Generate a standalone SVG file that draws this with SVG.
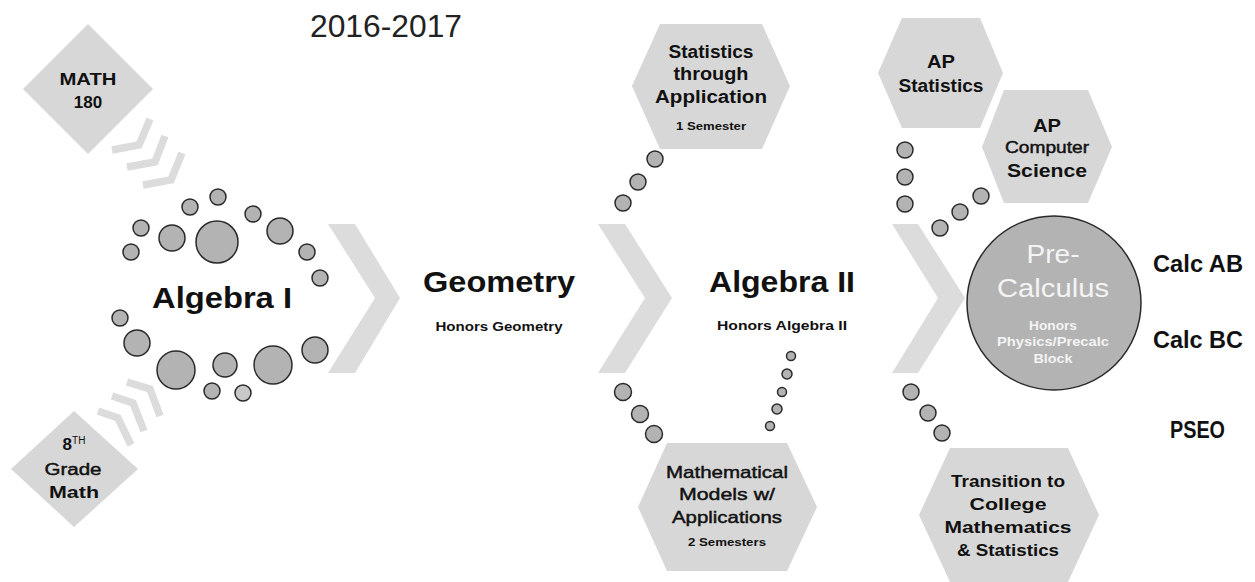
<svg xmlns="http://www.w3.org/2000/svg" width="1255" height="582" viewBox="0 0 1255 582">
<style>
  .bg{fill:#ffffff}
  .hex{fill:#d7d7d7}
  .dia{fill:#d7d7d7}
  .chev{fill:#dcdcdc}
  .schev{fill:none;stroke:#dcdcdc;stroke-width:7.5;stroke-linejoin:miter;stroke-linecap:butt}
  .dot{fill:#b3b3b3;stroke:#2a2a2a;stroke-width:1.5}
  .dotl{fill:#c8c8c8;stroke:#2a2a2a;stroke-width:1.5}
  .big{fill:#b3b3b3;stroke:#2a2a2a;stroke-width:1.5}
  text{font-family:"Liberation Sans",Arial,sans-serif;fill:#111;text-anchor:middle}
  .b{font-weight:bold}
  .t30{font-size:30px;font-weight:bold}
  .t18{font-size:18px;font-weight:bold}
  .t17{font-size:17px;font-weight:bold}
  .r16{font-size:16px;font-weight:normal}
  .med{stroke:#111;stroke-width:0.45}
  .t13{font-size:13px;font-weight:bold}
  .t11{font-size:11px;font-weight:bold}
  .calc{font-size:23px;font-weight:bold;text-anchor:start}
  .w{fill:#f4f4f4}
</style>
<rect class="bg" x="0" y="0" width="1255" height="582"/>

<text x="386" y="37" style="font-size:32px;font-weight:normal;fill:#222" textLength="152" lengthAdjust="spacingAndGlyphs">2016-2017</text>

<g id="connectors">
  <!-- big chevrons -->
  <polygon class="chev" points="328,224 355,224 400,298 355,373 328,373 375,298"/>
  <polygon class="chev" points="598,224 625,224 672,298 625,373 598,373 645,298"/>
  <polygon class="chev" points="892,224 918,224 965,298 918,373 892,373 938,298"/>
  <!-- small chevrons from MATH 180 -->
  <polyline class="schev" points="112,150 139,145 150,119"/>
  <polyline class="schev" points="127,167 155,162 165,136"/>
  <polyline class="schev" points="143,185 171,180 182,153"/>
  <!-- small chevrons from 8th grade -->
  <polyline class="schev" points="98,411 118,418 131,445"/>
  <polyline class="schev" points="112,396 133,403 144,431"/>
  <polyline class="schev" points="127,382 150,389 160,416"/>
  <!-- Algebra I ring of dots -->
  <circle class="dot" cx="218" cy="197" r="8"/>
  <circle class="dot" cx="190" cy="207" r="8"/>
  <circle class="dot" cx="253" cy="214" r="8"/>
  <circle class="dot" cx="141" cy="228" r="8"/>
  <circle class="dot" cx="172" cy="238" r="13"/>
  <circle class="dot" cx="217" cy="242" r="21"/>
  <circle class="dot" cx="280" cy="231" r="13"/>
  <circle class="dot" cx="131" cy="252" r="8"/>
  <circle class="dot" cx="307" cy="252" r="8"/>
  <circle class="dot" cx="320" cy="278" r="8"/>
  <circle class="dot" cx="120" cy="318" r="8"/>
  <circle class="dot" cx="137" cy="343" r="13"/>
  <circle class="dot" cx="176" cy="370" r="19"/>
  <circle class="dot" cx="225" cy="365" r="12"/>
  <circle class="dot" cx="273" cy="365" r="19"/>
  <circle class="dot" cx="315" cy="350" r="13"/>
  <circle class="dot" cx="212" cy="391" r="8"/>
  <circle class="dotl" cx="243" cy="393" r="8"/>
  <!-- to Statistics through Application -->
  <circle class="dot" cx="655" cy="159" r="8"/>
  <circle class="dot" cx="638" cy="182" r="8"/>
  <circle class="dot" cx="623" cy="203" r="8"/>
  <!-- to Mathematical Models (left) -->
  <circle class="dot" cx="623" cy="392" r="8.5"/>
  <circle class="dot" cx="640" cy="414" r="8.5"/>
  <circle class="dot" cx="654" cy="434" r="8.5"/>
  <!-- to Mathematical Models (small, from Algebra II) -->
  <circle class="dot" cx="791" cy="356" r="4.5"/>
  <circle class="dot" cx="787" cy="374" r="5"/>
  <circle class="dot" cx="782" cy="392" r="4.5"/>
  <circle class="dot" cx="777" cy="409" r="5"/>
  <circle class="dot" cx="770" cy="426" r="4.5"/>
  <!-- to AP Statistics -->
  <circle class="dot" cx="905" cy="150" r="8"/>
  <circle class="dot" cx="905" cy="177" r="8"/>
  <circle class="dot" cx="905" cy="204" r="8"/>
  <!-- to AP Computer Science -->
  <circle class="dot" cx="940" cy="228" r="8"/>
  <circle class="dot" cx="960" cy="212" r="8"/>
  <circle class="dot" cx="981" cy="196" r="8"/>
  <!-- to Transition -->
  <circle class="dot" cx="911" cy="392" r="8"/>
  <circle class="dot" cx="928" cy="413" r="8"/>
  <circle class="dot" cx="942" cy="433" r="8"/>
</g>

<g id="math180">
  <polygon class="dia" points="88,24 153,89 88,154 23,89"/>
  <text class="t17" x="88" y="85" textLength="57" lengthAdjust="spacingAndGlyphs">MATH</text>
  <text class="t17" x="88" y="108">180</text>
</g>

<g id="grade8">
  <polygon class="dia" points="74,411 138,469 74,527 11,469"/>
  <text x="74" y="450" style="text-anchor:middle"><tspan class="b" style="font-size:17px">8</tspan><tspan style="font-size:10px;font-weight:normal" dy="-6">TH</tspan></text>
  <text class="r16 med" x="73" y="475" textLength="57" lengthAdjust="spacingAndGlyphs">Grade</text>
  <text class="t17" x="74" y="498" textLength="50" lengthAdjust="spacingAndGlyphs">Math</text>
</g>

<g id="algebra1">
  <text class="t30" x="222" y="308" textLength="140" lengthAdjust="spacingAndGlyphs">Algebra I</text>
</g>

<g id="geometry">
  <text class="t30" x="499" y="292" textLength="152" lengthAdjust="spacingAndGlyphs">Geometry</text>
  <text class="t13" x="499" y="331" textLength="127" lengthAdjust="spacingAndGlyphs">Honors  Geometry</text>
</g>

<g id="algebra2">
  <text class="t30" x="782" y="292" textLength="146" lengthAdjust="spacingAndGlyphs">Algebra II</text>
  <text class="t13" x="782" y="330" textLength="130" lengthAdjust="spacingAndGlyphs">Honors  Algebra  II</text>
</g>

<g id="stats-app">
  <polygon class="hex" points="660,24 762,24 790,86 762,149 660,149 632,86"/>
  <text class="t18" x="711" y="58" textLength="85" lengthAdjust="spacingAndGlyphs">Statistics</text>
  <text class="t18" x="711" y="80" textLength="75" lengthAdjust="spacingAndGlyphs">through</text>
  <text class="t18" x="711" y="103" textLength="112" lengthAdjust="spacingAndGlyphs">Application</text>
  <text class="t11" x="711" y="130" textLength="70" lengthAdjust="spacingAndGlyphs">1 Semester</text>
</g>

<g id="math-models">
  <polygon class="hex" points="667,443 787,443 817,507 787,571 667,571 638,507"/>
  <text class="r16 med" x="727" y="478" style="font-size:17px" textLength="122" lengthAdjust="spacingAndGlyphs">Mathematical</text>
  <text class="r16 med" x="727" y="500" style="font-size:17px" textLength="96" lengthAdjust="spacingAndGlyphs">Models w/</text>
  <text class="r16 med" x="727" y="523" style="font-size:17px" textLength="110" lengthAdjust="spacingAndGlyphs">Applications</text>
  <text class="t11" x="727" y="546" textLength="78" lengthAdjust="spacingAndGlyphs">2 Semesters</text>
</g>

<g id="ap-stats">
  <polygon class="hex" points="902,18 980,18 1003,73 980,128 902,128 878,73"/>
  <text class="t18" x="941" y="68" textLength="28" lengthAdjust="spacingAndGlyphs">AP</text>
  <text class="t18" x="941" y="92" textLength="85" lengthAdjust="spacingAndGlyphs">Statistics</text>
</g>

<g id="ap-cs">
  <polygon class="hex" points="1004,90 1088,90 1112,147 1088,203 1004,203 982,147"/>
  <text class="t18" x="1047" y="132" textLength="28" lengthAdjust="spacingAndGlyphs">AP</text>
  <text class="r16 med" x="1047" y="153" textLength="84" lengthAdjust="spacingAndGlyphs">Computer</text>
  <text class="t18" x="1047" y="177" textLength="80" lengthAdjust="spacingAndGlyphs">Science</text>
</g>

<g id="precalc">
  <circle class="big" cx="1054" cy="303" r="87"/>
  <text class="w" x="1053" y="263" style="font-size:26px;font-weight:normal" textLength="53" lengthAdjust="spacingAndGlyphs">Pre-</text>
  <text class="w" x="1053" y="297" style="font-size:26px;font-weight:normal" textLength="112" lengthAdjust="spacingAndGlyphs">Calculus</text>
  <text class="w t13" x="1053" y="330" textLength="48" lengthAdjust="spacingAndGlyphs">Honors</text>
  <text class="w t13" x="1053" y="346" textLength="112" lengthAdjust="spacingAndGlyphs">Physics/Precalc</text>
  <text class="w t13" x="1053" y="363" textLength="39" lengthAdjust="spacingAndGlyphs">Block</text>
</g>

<g id="transition">
  <polygon class="hex" points="950,448 1068,448 1099,515 1068,582 950,582 919,515"/>
  <text class="t17" x="1008" y="487" textLength="114" lengthAdjust="spacingAndGlyphs">Transition to</text>
  <text class="t17" x="1008" y="510" textLength="77" lengthAdjust="spacingAndGlyphs">College</text>
  <text class="t17" x="1008" y="533" textLength="127" lengthAdjust="spacingAndGlyphs">Mathematics</text>
  <text class="t17" x="1008" y="556" textLength="102" lengthAdjust="spacingAndGlyphs">&amp; Statistics</text>
</g>

<g id="calc-ab"><text class="calc" x="1153" y="272" textLength="90" lengthAdjust="spacingAndGlyphs">Calc AB</text></g>
<g id="calc-bc"><text class="calc" x="1153" y="348" textLength="90" lengthAdjust="spacingAndGlyphs">Calc BC</text></g>
<g id="pseo"><text class="calc" x="1170" y="438" style="font-size:23px" textLength="55" lengthAdjust="spacingAndGlyphs">PSEO</text></g>
</svg>
